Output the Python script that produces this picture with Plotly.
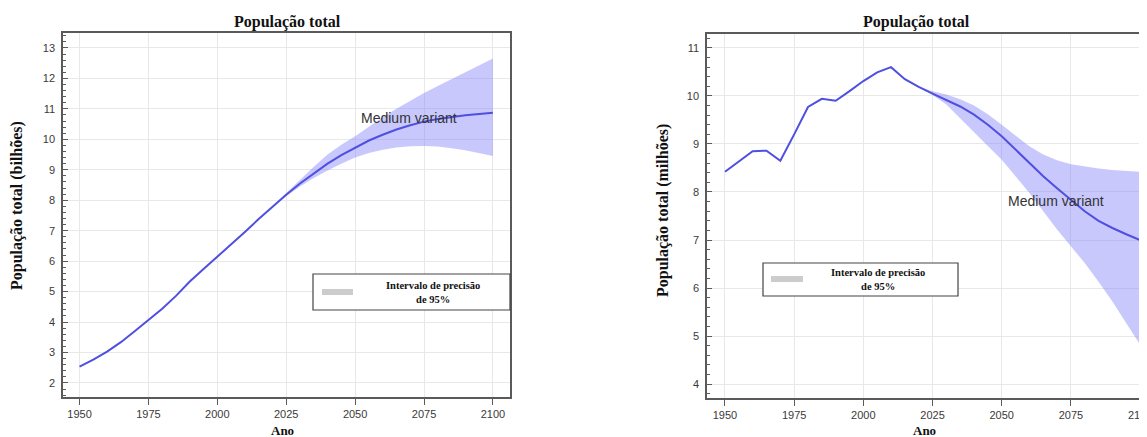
import plotly.graph_objects as go

# the page body has an 8px margin; the figure sits at (8, 8) in the window
OFF = 8
W, H = 1147 - OFF, 437 - OFF

# ---------------- data ----------------
years = list(range(1950, 2101, 5))
world_medium = [2.54, 2.77, 3.03, 3.34, 3.70, 4.08, 4.44, 4.86, 5.33, 5.74, 6.14,
                6.54, 6.96, 7.38, 7.79, 8.18, 8.55, 8.89, 9.20, 9.48, 9.73,
                9.96, 10.15, 10.32, 10.46, 10.58, 10.67, 10.74, 10.79, 10.83, 10.87]
band_years = list(range(2020, 2101, 5))
world_upper = [7.80, 8.24, 8.68, 9.10, 9.50, 9.82, 10.10, 10.42, 10.72, 11.00,
               11.27, 11.52, 11.75, 11.98, 12.20, 12.42, 12.65]
world_lower = [7.78, 8.14, 8.45, 8.73, 8.98, 9.20, 9.40, 9.55, 9.66, 9.73,
               9.77, 9.78, 9.76, 9.71, 9.64, 9.55, 9.45]

pt_medium = [8.42, 8.63, 8.85, 8.86, 8.65, 9.20, 9.77, 9.94, 9.90, 10.10, 10.31,
             10.49, 10.60, 10.35, 10.19, 10.05, 9.92, 9.78, 9.61, 9.40, 9.16,
             8.88, 8.59, 8.33, 8.08, 7.84, 7.60, 7.40, 7.25, 7.12, 7.00]
pt_upper = [10.19, 10.10, 10.03, 9.93, 9.80, 9.62, 9.40, 9.17, 8.95, 8.78,
            8.66, 8.58, 8.53, 8.49, 8.46, 8.44, 8.42]
pt_lower = [10.19, 10.02, 9.82, 9.55, 9.25, 8.96, 8.67, 8.33, 7.98, 7.60,
            7.22, 6.87, 6.52, 6.13, 5.72, 5.28, 4.82]

x_ticks = [1950, 1975, 2000, 2025, 2050, 2075, 2100]
title_text = "População total"
ylab_left = "População total (bilhões)"
ylab_right = "População total (milhões)"
xlab = "Ano"
legend_text = "Intervalo de precisão<br>de 95%"
variant_text = "Medium variant"

# ---------------- style ----------------
LINE = "#4f4fe0"
BAND = "rgba(125,125,250,0.42)"
FRAME = "#5a5a5a"
GRID = "#e8e8e8"
SERIF = "Liberation Serif, Times New Roman, serif"
SANS = "Liberation Sans, Arial, sans-serif"
TICKFONT = dict(family=SANS, size=11, color="#3a3a3a")

fig = go.Figure()

def add_panel(xa, ya, med, up, lo):
    fig.add_trace(go.Scatter(x=band_years + band_years[::-1], y=up + lo[::-1],
                             fill="toself", fillcolor=BAND, line=dict(width=0),
                             mode="lines", hoverinfo="skip", showlegend=False,
                             xaxis=xa, yaxis=ya))
    fig.add_trace(go.Scatter(x=years, y=med, mode="lines",
                             line=dict(color=LINE, width=2), showlegend=False,
                             xaxis=xa, yaxis=ya))

add_panel("x", "y", world_medium, world_upper, world_lower)
add_panel("x2", "y2", pt_medium, pt_upper, pt_lower)

def px_x(p):
    return min(1.0, max(0.0, (p - OFF) / W))

def px_y(p):
    return min(1.0, max(0.0, 1 - (p - OFF) / H))

xcommon = dict(tickvals=x_ticks, ticks="outside", ticklen=6, tickcolor=FRAME,
               showgrid=True, gridcolor=GRID, zeroline=False, showline=True,
               linecolor=FRAME, linewidth=1.5, tickfont=TICKFONT)
ycommon = dict(dtick=1, ticks="inside", ticklen=5, tickcolor=FRAME,
               showgrid=True, gridcolor=GRID, zeroline=False, showline=True,
               linecolor=FRAME, linewidth=1.5, ticklabelstandoff=4,
               minor=dict(dtick=0.2, ticks="inside", ticklen=3, tickcolor=FRAME, showgrid=False),
               tickfont=TICKFONT)

fig.update_layout(
    width=W, height=H, margin=dict(l=0, r=0, t=0, b=0),
    paper_bgcolor="white", plot_bgcolor="white", showlegend=False,
    xaxis=dict(domain=[px_x(63), px_x(510)], range=[1944.0, 2106.2], mirror=True,
               anchor="y", **xcommon),
    yaxis=dict(domain=[px_y(397), px_y(33)], range=[1.54, 13.49], mirror=True,
               anchor="x", **ycommon),
    xaxis2=dict(domain=[px_x(707), 1.0], range=[1943.5, 2102.5], mirror=True,
                anchor="y2", **xcommon),
    yaxis2=dict(domain=[px_y(398), px_y(34)], range=[3.71, 11.29], mirror=False,
                anchor="x2", **ycommon),
)

ann = []

def pa(text, x, y, size, family=SERIF, color="#111", angle=0):
    ann.append(dict(text=text, x=px_x(x), y=px_y(y), xref="paper", yref="paper",
                    xanchor="center", yanchor="middle", showarrow=False,
                    textangle=angle, font=dict(family=family, size=size, color=color)))

# titles
pa("<b>%s</b>" % title_text, 287, 22, 16)
pa("<b>%s</b>" % title_text, 916, 22, 16)
# y titles
pa("<b>%s</b>" % ylab_left, 17, 206, 16, angle=-90)
pa("<b>%s</b>" % ylab_right, 663, 211, 16, angle=-90)
# x titles
pa("<b>%s</b>" % xlab, 282, 430, 13)
pa("<b>%s</b>" % xlab, 925, 430, 13)
# last tick label of the right panel sits on the window edge (cut off in the source)
ann.append(dict(text=str(x_ticks[-1]), x=x_ticks[-1], y=px_y(415), xref="x2", yref="paper",
                xanchor="center", yanchor="middle", showarrow=False, font=TICKFONT))
# medium variant labels
ann.append(dict(text=variant_text, x=2069.5, y=10.70, xref="x", yref="y",
                xanchor="center", yanchor="middle",
                showarrow=False, font=dict(family=SANS, size=14, color="#333")))
ann.append(dict(text=variant_text, x=2069.6, y=7.82, xref="x2", yref="y2",
                xanchor="center", yanchor="middle",
                showarrow=False, font=dict(family=SANS, size=14, color="#333")))
# legend boxes (custom)
shapes = []
for (bx0, by0, bx1, by1, sx0, sx1, sy, tx, ty) in [
        (313, 274, 510, 310, 322, 353, 292, 433, 292),
        (763, 263, 958, 296, 771, 803, 279, 878, 279)]:
    shapes.append(dict(type="rect", xref="paper", yref="paper",
                       x0=px_x(bx0), x1=px_x(bx1), y0=px_y(by1), y1=px_y(by0),
                       line=dict(color="#444", width=1.2), fillcolor="white"))
    shapes.append(dict(type="line", xref="paper", yref="paper",
                       x0=px_x(sx0), x1=px_x(sx1), y0=px_y(sy), y1=px_y(sy),
                       line=dict(color="#cccccc", width=6)))
    pa("<b>%s</b>" % legend_text, tx, ty, 10.5)

fig.update_layout(annotations=ann, shapes=shapes)
fig.write_html("out.html")
